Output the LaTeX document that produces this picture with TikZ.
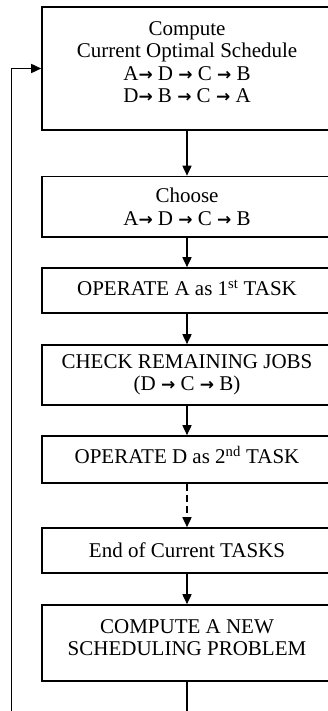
\documentclass[tikz,border=0pt]{standalone}
\usepackage{fontspec}
\setmainfont{Liberation Serif}
\newfontfamily\arrowfont{DejaVu Sans}
\usetikzlibrary{arrows.meta}
% heavy arrow used inside the job sequences
\newcommand{\seqarrow}{{\arrowfont\bfseries\fontsize{17}{17}\selectfont →}}
% extra depth under the last line pushes a text block upward
\newcommand{\liftby}[1]{\rule[-#1]{0pt}{#1}}
\tikzset{
  stepbox/.style={draw, line width=1.6pt, rectangle, minimum width=290pt,
    align=center, inner sep=2pt,
    font=\fontsize{21}{22.5}\selectfont},
  flow/.style={line width=1.6pt, -{Triangle[length=10pt,width=9pt]}},
}
\begin{document}
\begin{tikzpicture}[x=1pt,y=1pt]
\useasboundingbox (0,0) rectangle (328,-711);
\clip (0,0) rectangle (328,-711);
\fill[white] (0,0) rectangle (328,-711);

\node[stepbox, minimum height=123pt] (b1) at (187,-68.5)
  {Compute\\Current Optimal Schedule\\A\seqarrow{} D \seqarrow{} C \seqarrow{} B\\D\seqarrow{} B \seqarrow{} C \seqarrow{} A\liftby{13pt}};
\node[stepbox, minimum height=60.5pt] (b2) at (187,-206.75)
  {Choose\\A\seqarrow{} D \seqarrow{} C \seqarrow{} B};
\node[stepbox, minimum height=45pt] (b3) at (187,-290.5)
  {OPERATE A as 1\textsuperscript{st} TASK\liftby{5pt}};
\node[stepbox, minimum height=60pt] (b4) at (187,-375)
  {CHECK REMAINING JOBS\\(D \seqarrow{} C \seqarrow{} B)};
\node[stepbox, minimum height=47pt] (b5) at (187,-459.5)
  {OPERATE D as 2\textsuperscript{nd} TASK\liftby{9pt}};
\node[stepbox, minimum height=45pt] (b6) at (187,-550.5)
  {End of Current TASKS};
\node[stepbox, minimum height=76pt] (b7) at (187,-643)
  {COMPUTE A NEW\\SCHEDULING PROBLEM\liftby{11pt}};

\draw[flow] (b1.south) -- (b2.north);
\draw[flow] (b2.south) -- (b3.north);
\draw[flow] (b3.south) -- (b4.north);
\draw[flow] (b4.south) -- (b5.north);
\draw[flow, dash pattern=on 7pt off 4pt] (b5.south) -- (b6.north);
\draw[flow] (b6.south) -- (b7.north);

% feedback loop back to the top box
\coordinate (loopdown) at (187,-730);
\coordinate (loopleft) at (11.5,-730);
\draw[flow] (b7.south) -- (loopdown) -- (loopleft) |- (b1.west);
\end{tikzpicture}
\end{document}
